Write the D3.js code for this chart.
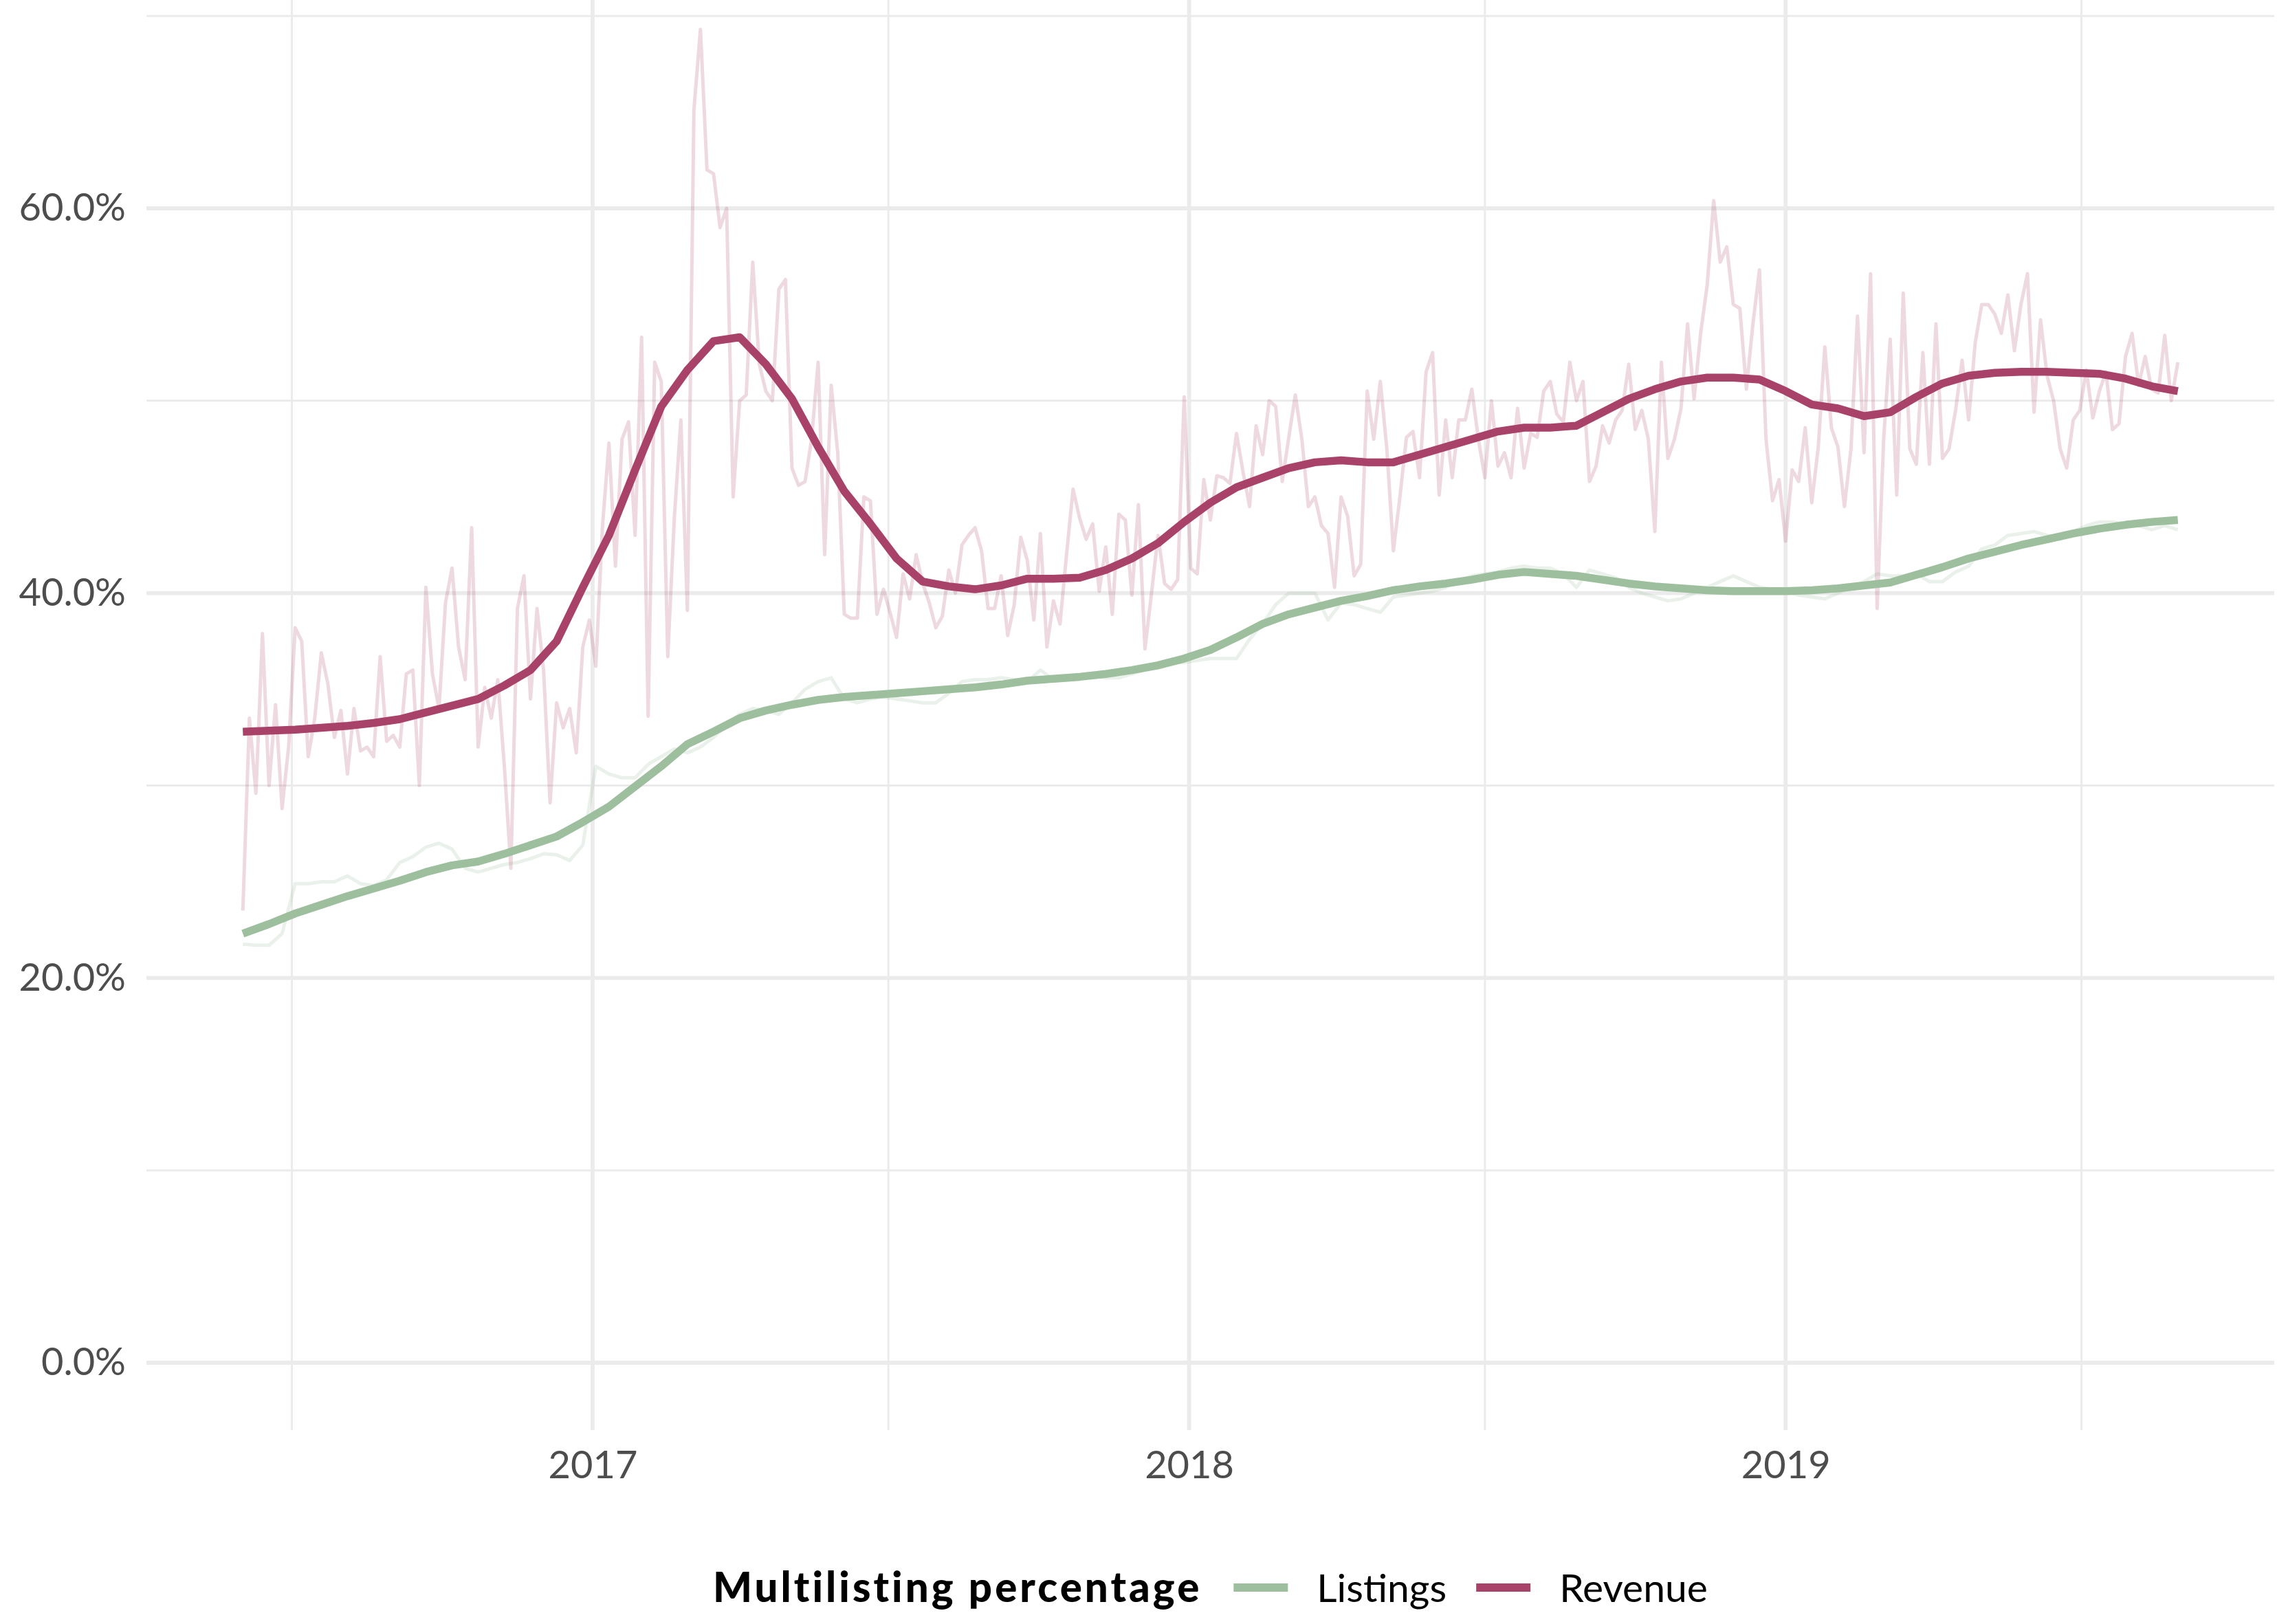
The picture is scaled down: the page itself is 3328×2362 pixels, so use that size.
<!DOCTYPE html>
<html>
<head>
<meta charset="utf-8">
<script src="https://cdn.jsdelivr.net/npm/d3@7"></script>
<style>
  html, body { margin: 0; padding: 0; background: #fff; }
  svg { display: block; font-family: Lato, "Open Sans", sans-serif; }
</style>
</head>
<body>
<div id="chart"></div>
<script>
// Chart data: daily-ish multilisting shares.
var startDate = new Date(2016, 5, 1);   // first day of the series
var rawStep = 4;          // days between revenue raw values
var listingsRawStep = 8;  // days between listings raw values
var trendStep = 16;       // days between trend values

var revenueRaw = [
  23.5, 33.5, 29.6, 37.9, 30.0, 34.2, 28.8, 32.0, 38.2, 37.5, 31.5, 33.5, 36.9, 35.3, 32.5, 33.9,
  30.6, 34.0, 31.8, 32.0, 31.5, 36.7, 32.3, 32.6, 32.0, 35.8, 36.0, 30.0, 40.3, 35.8, 34.0, 39.5,
  41.3, 37.2, 35.5, 43.4, 32.0, 35.1, 33.5, 35.5, 31.0, 25.7, 39.2, 40.9, 34.5, 39.2, 36.0, 29.1,
  34.3, 33.0, 34.0, 31.7, 37.2, 38.6, 36.2, 43.4, 47.8, 41.4, 48.0, 48.9, 43.0, 53.3, 33.6, 52.0,
  51.0, 36.7, 43.9, 49.0, 39.1, 65.1, 69.3, 62.0, 61.8, 59.0, 60.0, 45.0, 50.0, 50.3, 57.2, 51.9,
  50.5, 50.0, 55.8, 56.3, 46.5, 45.6, 45.8, 48.0, 52.0, 42.0, 50.8, 47.3, 38.9, 38.7, 38.7, 45.0,
  44.8, 38.9, 40.2, 39.0, 37.7, 41.0, 39.7, 42.0, 40.5, 39.5, 38.2, 38.8, 41.2, 40.0, 42.5, 43.0,
  43.4, 42.2, 39.2, 39.2, 40.9, 37.8, 39.4, 42.9, 41.7, 38.6, 43.1, 37.2, 39.6, 38.4, 42.0, 45.4,
  43.9, 42.8, 43.6, 40.1, 42.4, 38.9, 44.1, 43.8, 39.9, 44.6, 37.1, 40.0, 43.0, 40.5, 40.2, 40.7,
  50.2, 41.3, 41.0, 45.9, 43.8, 46.1, 46.0, 45.7, 48.3, 46.3, 44.5, 48.7, 47.2, 50.0, 49.7, 45.8,
  48.1, 50.3, 48.0, 44.5, 45.0, 43.5, 43.1, 40.3, 45.0, 44.0, 40.9, 41.5, 50.5, 48.0, 51.0, 47.5,
  42.2, 45.0, 48.1, 48.4, 46.0, 51.5, 52.5, 45.1, 49.0, 46.0, 49.0, 49.0, 50.6, 48.0, 46.0, 50.0,
  46.6, 47.3, 46.0, 49.6, 46.5, 48.3, 48.1, 50.5, 51.0, 49.3, 48.9, 52.0, 50.0, 51.0, 45.8, 46.6,
  48.7, 47.8, 49.0, 49.5, 51.9, 48.5, 49.5, 48.0, 43.2, 52.0, 47.0, 48.0, 49.6, 54.0, 50.1, 53.5,
  56.0, 60.4, 57.2, 58.0, 55.0, 54.8, 50.6, 54.0, 56.8, 48.0, 44.8, 45.9, 42.7, 46.4, 45.8, 48.6,
  44.7, 47.6, 52.8, 48.6, 47.6, 44.5, 47.5, 54.4, 47.3, 56.6, 39.2, 48.0, 53.2, 45.1, 55.6, 47.5,
  46.7, 52.5, 46.7, 54.0, 47.0, 47.5, 49.5, 52.1, 49.0, 53.0, 55.0, 55.0, 54.5, 53.5, 55.5, 52.6,
  55.0, 56.6, 49.4, 54.2, 51.3, 50.0, 47.5, 46.5, 49.0, 49.5, 51.6, 49.1, 50.5, 51.5, 48.5, 48.8,
  52.3, 53.5, 50.8, 52.3, 50.6, 50.4, 53.4, 50.0, 52.0
];

var listingsRaw = [
  21.75, 21.7, 21.7, 22.3, 24.9, 24.9, 25.0, 25.0, 25.3, 24.9, 24.8, 25.1, 26.0, 26.3, 26.8, 27.0,
  26.7, 25.7, 25.5, 25.7, 25.9, 26.0, 26.2, 26.45, 26.4, 26.1, 26.9, 31.0, 30.6, 30.4, 30.4, 31.1,
  31.5, 31.9, 31.7, 32.0, 32.5, 33.2, 33.7, 34.0, 33.9, 33.7, 34.3, 35.0, 35.4, 35.6, 34.5, 34.3,
  34.5, 34.6, 34.5, 34.4, 34.3, 34.3, 34.8, 35.4, 35.5, 35.5, 35.6, 35.5, 35.4, 36.0, 35.5, 35.6,
  35.6, 35.7, 35.6, 35.6, 35.8, 36.0, 36.1, 36.4, 36.4, 36.5, 36.6, 36.6, 36.6, 37.6, 38.4, 39.4,
  40.0, 40.0, 40.0, 38.6, 39.5, 39.4, 39.2, 39.0, 39.8, 39.9, 40.0, 40.1, 40.3, 40.6, 40.9, 41.0,
  41.1, 41.3, 41.4, 41.3, 41.3, 41.0, 40.3, 41.2, 41.0, 40.8, 40.3, 40.0, 39.8, 39.6, 39.7, 40.0,
  40.3, 40.6, 40.9, 40.6, 40.3, 40.2, 40.1, 39.9, 39.8, 39.7, 40.0, 40.3, 40.6, 41.0, 40.9, 40.9,
  41.0, 40.6, 40.6, 41.1, 41.4, 42.3, 42.5, 43.0, 43.1, 43.2, 43.0, 42.8, 43.2, 43.5, 43.7, 43.7,
  43.6, 43.5, 43.3, 43.5, 43.3
];

var revenueTrend = [
  32.8, 32.85, 32.9, 33.0, 33.1, 33.25, 33.45, 33.8, 34.15, 34.5, 35.2, 36.0, 37.5, 40.3, 43.0, 46.4,
  49.7, 51.6, 53.1, 53.3, 51.9, 50.1, 47.6, 45.3, 43.6, 41.8, 40.6, 40.35, 40.2, 40.4, 40.75, 40.75,
  40.8, 41.2, 41.8, 42.6, 43.7, 44.7, 45.5, 46.0, 46.5, 46.8, 46.9, 46.8, 46.8, 47.2, 47.6, 48.0,
  48.4, 48.6, 48.6, 48.7, 49.4, 50.1, 50.6, 51.0, 51.2, 51.2, 51.1, 50.5, 49.8, 49.6, 49.2, 49.4,
  50.2, 50.9, 51.3, 51.45, 51.5, 51.5, 51.45, 51.4, 51.15, 50.75, 50.5
];

var listingsTrend = [
  22.3, 22.8, 23.35, 23.8, 24.25, 24.65, 25.05, 25.5, 25.85, 26.05, 26.45, 26.9, 27.35, 28.1, 28.9, 29.95,
  31.0, 32.15, 32.8, 33.5, 33.9, 34.2, 34.45, 34.6, 34.7, 34.8, 34.9, 35.0, 35.1, 35.25, 35.45, 35.55,
  35.65, 35.8, 36.0, 36.25, 36.6, 37.05, 37.7, 38.4, 38.9, 39.25, 39.6, 39.85, 40.15, 40.35, 40.5, 40.7,
  40.95, 41.1, 41.0, 40.9, 40.7, 40.5, 40.35, 40.25, 40.15, 40.1, 40.1, 40.1, 40.15, 40.25, 40.4, 40.55,
  40.95, 41.35, 41.8, 42.15, 42.5, 42.8, 43.1, 43.35, 43.55, 43.7, 43.8
];

// Axis ticks and legend labels.
var yMajor = [0, 20, 40, 60];
var yMinor = [10, 30, 50, 70];
var xMajor = ["2017-01-01", "2018-01-01", "2019-01-01"];
var xMinor = ["2016-07-01", "2017-07-01", "2018-07-01", "2019-07-01"];
var seriesNames = ["Listings", "Revenue"];
var legendTitle = "Multilisting percentage";

// Layout.
var width = 3328, height = 2362;
var panelLeft = 213, panelRight = 3308, panelBottom = 2080;
var colors = { Listings: "#9dbf9e", Revenue: "#a84268" };
var parseDay = d3.timeParse("%Y-%m-%d");

var endDate = d3.timeDay.offset(startDate, (revenueRaw.length - 1) * rawStep);
var span = d3.timeDay.count(startDate, endDate);
var pad = Math.round(span * 0.05);

var x = d3.scaleTime()
    .domain([d3.timeDay.offset(startDate, -pad), d3.timeDay.offset(endDate, pad)])
    .range([panelLeft, panelRight]);
var y = d3.scaleLinear()
    .domain([0, 60])
    .range([1982, 303]);

var svg = d3.select("#chart").append("svg")
    .attr("width", width)
    .attr("height", height);

svg.append("rect").attr("width", width).attr("height", height).attr("fill", "#fff");

// Grid lines (minor thinner than major).
var grid = svg.append("g").attr("class", "grid").attr("stroke", "#ebebeb").attr("fill", "none");
grid.selectAll(".hminor").data(yMinor).enter().append("line")
    .attr("x1", panelLeft).attr("x2", panelRight)
    .attr("y1", d => y(d)).attr("y2", d => y(d))
    .attr("stroke-width", 3);
grid.selectAll(".hmajor").data(yMajor).enter().append("line")
    .attr("x1", panelLeft).attr("x2", panelRight)
    .attr("y1", d => y(d)).attr("y2", d => y(d))
    .attr("stroke-width", 5.8);
grid.selectAll(".vminor").data(xMinor).enter().append("line")
    .attr("x1", d => x(parseDay(d))).attr("x2", d => x(parseDay(d)))
    .attr("y1", 0).attr("y2", panelBottom)
    .attr("stroke-width", 3);
grid.selectAll(".vmajor").data(xMajor).enter().append("line")
    .attr("x1", d => x(parseDay(d))).attr("x2", d => x(parseDay(d)))
    .attr("y1", 0).attr("y2", panelBottom)
    .attr("stroke-width", 5.8);

// Line generators, one per sampling step.
function lineFor(step) {
  return d3.line()
    .x((v, i) => x(d3.timeDay.offset(startDate, i * step)))
    .y(v => y(v));
}

var plot = svg.append("g").attr("fill", "none").attr("stroke-linejoin", "round");

// Raw daily series, faint.
plot.append("path").datum(listingsRaw)
    .attr("d", lineFor(listingsRawStep))
    .attr("stroke", colors.Listings).attr("stroke-opacity", 0.22)
    .attr("stroke-width", 5);
plot.append("path").datum(revenueRaw)
    .attr("d", lineFor(rawStep))
    .attr("stroke", colors.Revenue).attr("stroke-opacity", 0.2)
    .attr("stroke-width", 5);

// Trends on top.
plot.append("path").datum(listingsTrend)
    .attr("d", lineFor(trendStep))
    .attr("stroke", colors.Listings)
    .attr("stroke-width", 11.5);
plot.append("path").datum(revenueTrend)
    .attr("d", lineFor(trendStep))
    .attr("stroke", colors.Revenue)
    .attr("stroke-width", 11.5);

// Axes: labels only.
var yAxis = svg.append("g")
    .attr("transform", "translate(" + panelLeft + ",0)")
    .call(d3.axisLeft(y).tickValues(yMajor).tickSize(0).tickPadding(30)
      .tickFormat(d => d.toFixed(1) + "%"));
var xAxis = svg.append("g")
    .attr("transform", "translate(0," + panelBottom + ")")
    .call(d3.axisBottom(x).tickValues(xMajor.map(parseDay)).tickSize(0).tickPadding(30)
      .tickFormat(d3.timeFormat("%Y")));
[yAxis, xAxis].forEach(function(a) {
  a.select(".domain").remove();
  a.selectAll("text")
    .attr("fill", "#4d4d4d")
    .style("font-family", "Lato, 'Open Sans', sans-serif")
    .style("font-size", "56px");
});

// Legend, centred under the panel.
var legend = svg.append("g").attr("id", "legend");
var legendY = 2309;
var title = legend.append("text")
    .attr("y", legendY + 21)
    .style("font-size", "60px").style("font-weight", 900)
    .style("letter-spacing", "4px")
    .attr("fill", "#000")
    .text(legendTitle);
var cursor = title.node().getComputedTextLength() + 46;
seriesNames.forEach(function(name, i) {
  legend.append("line")
    .attr("x1", cursor).attr("x2", cursor + 79)
    .attr("y1", legendY).attr("y2", legendY)
    .attr("stroke", colors[name]).attr("stroke-width", 12);
  cursor += 79 + 42;
  var t = legend.append("text")
    .attr("x", cursor).attr("y", legendY + 21)
    .style("font-size", "57px")
    .attr("fill", "#000")
    .text(name);
  cursor += t.node().getComputedTextLength() + (i < seriesNames.length - 1 ? 43 : 0);
});
legend.attr("transform", "translate(" + ((panelLeft + panelRight) / 2 - cursor / 2) + ",0)");
</script>
</body>
</html>
